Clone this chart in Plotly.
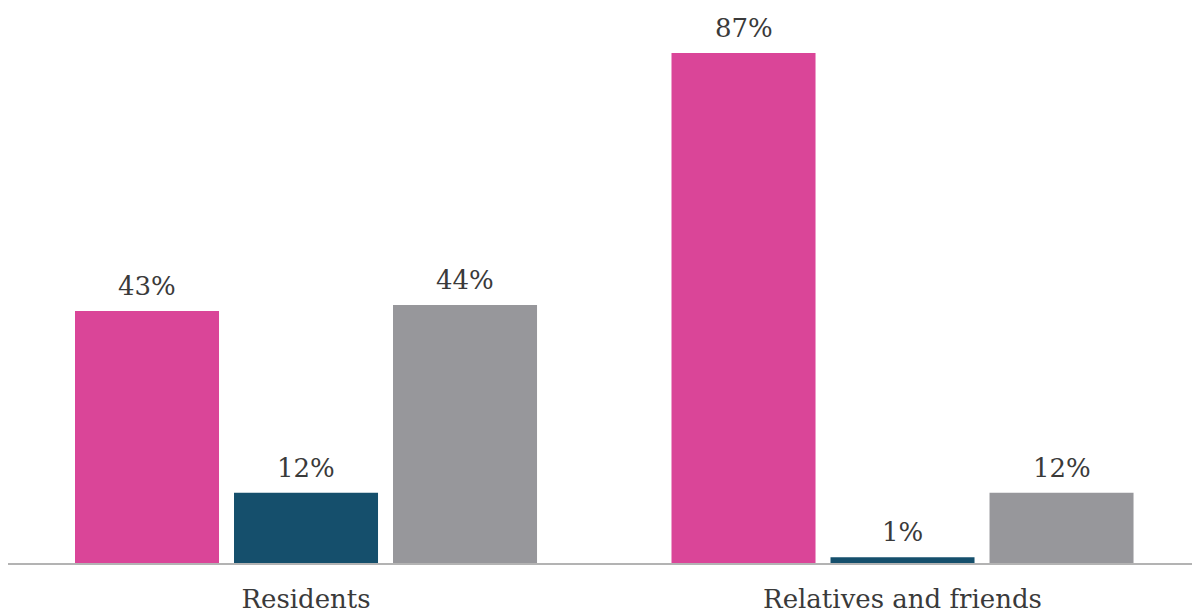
import plotly.graph_objects as go

categories = ["Residents", "Relatives and friends"]
series_names = ["Series A", "Series B", "Series C"]
series_values = [
    [43, 87],
    [12, 1],
    [44, 12],
]
colors = ["#DA4598", "#154F6C", "#97979B"]

font_family = "DejaVu Serif"
text_color = "#3A3A3A"

BARGAP = 0.2003
BARGROUPGAP = 0.0943
n_series = len(series_values)
slot = (1 - BARGAP) / n_series

fig = go.Figure()
for name, vals, col in zip(series_names, series_values, colors):
    fig.add_trace(go.Bar(
        x=categories, y=vals, name=name, marker_color=col,
        marker_line_width=0,
    ))

for si, vals in enumerate(series_values):
    off = (si - (n_series - 1) / 2) * slot
    for ci, v in enumerate(vals):
        fig.add_annotation(
            x=ci + off, y=v, xref="x", yref="y",
            text=f"{v}%", showarrow=False,
            yanchor="bottom", xanchor="center", yshift=8,
            font=dict(family=font_family, size=26, color=text_color),
        )

fig.update_layout(
    width=1192, height=614,
    margin=dict(l=8, r=0, t=0, b=51),
    barmode="group", bargap=BARGAP, bargroupgap=BARGROUPGAP,
    showlegend=False,
    plot_bgcolor="white", paper_bgcolor="white",
    xaxis=dict(
        range=[-0.4996, 1.4853],
        showline=True, linecolor="#B3B3B3", linewidth=2,
        showgrid=False, zeroline=False, ticks="",
        ticklabelstandoff=12,
        tickfont=dict(family=font_family, size=26, color=text_color),
    ),
    yaxis=dict(range=[0, 96.04], visible=False, showgrid=False, zeroline=False),
)

fig.write_html("out.html")
